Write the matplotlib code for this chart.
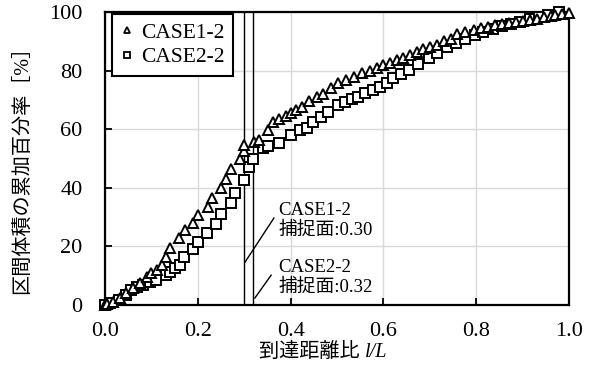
import matplotlib.pyplot as plt
from matplotlib.lines import Line2D

plt.rcParams['font.family'] = ['Liberation Serif', 'Noto Sans CJK JP']

# CASE1-2 (三角)
x1 = [0.00, 0.005, 0.018, 0.032, 0.045, 0.061, 0.075, 0.09, 0.10, 0.112, 0.122, 0.131,
      0.140, 0.160, 0.172, 0.19, 0.201, 0.221, 0.231, 0.251, 0.261, 0.272, 0.291, 0.300,
      0.300, 0.321, 0.332, 0.352, 0.361, 0.375, 0.39, 0.40, 0.412, 0.424, 0.44, 0.456,
      0.47, 0.487, 0.503, 0.52, 0.537, 0.553, 0.57, 0.585, 0.600, 0.614, 0.63, 0.643,
      0.657, 0.672, 0.686, 0.70, 0.715, 0.73, 0.745, 0.758, 0.775, 0.794, 0.81, 0.825,
      0.84, 0.855, 0.87, 0.885, 0.90, 0.915, 0.93, 0.945, 0.96, 0.97, 0.985, 0.999]
y1 = [0.0, 0.5, 1.1, 2.3, 4.0, 5.7, 7.4, 9.7, 11.0, 12.0, 13.6, 16.5,
      19.6, 22.8, 25.6, 28.1, 30.7, 33.6, 36.6, 39.8, 43.0, 46.6, 50.0, 52.6,
      54.6, 55.7, 56.3, 59.7, 62.6, 63.5, 64.5, 65.5, 66.5, 67.7, 69.5, 71.1,
      72.0, 74.0, 75.7, 76.8, 78.0, 79.1, 80.0, 81.0, 81.8, 82.5, 83.5, 84.5,
      85.3, 86.3, 87.5, 88.0, 88.7, 90.0, 91.0, 92.7, 93.3, 93.9, 94.5, 95.0,
      95.5, 96.0, 96.3, 96.7, 97.0, 97.4, 97.8, 98.2, 98.7, 99.0, 99.4, 99.8]

# CASE2-2 (四角)
x2 = [0.00, 0.012, 0.031, 0.045, 0.057, 0.07, 0.083, 0.097, 0.111, 0.131, 0.140, 0.152,
      0.162, 0.171, 0.19, 0.201, 0.22, 0.24, 0.251, 0.272, 0.280, 0.300, 0.311, 0.32,
      0.341, 0.352, 0.376, 0.40, 0.42, 0.435, 0.449, 0.465, 0.481, 0.503, 0.518, 0.532,
      0.546, 0.56, 0.577, 0.593, 0.607, 0.621, 0.638, 0.654, 0.675, 0.697, 0.716, 0.736,
      0.756, 0.776, 0.797, 0.815, 0.835, 0.855, 0.875, 0.895, 0.915, 0.935, 0.955, 0.977]
y2 = [0.0, 0.8, 1.7, 3.5, 5.1, 6.0, 6.8, 7.8, 8.5, 10.2, 11.4, 12.5,
      13.7, 16.3, 19.0, 21.6, 24.5, 27.6, 31.1, 34.7, 38.3, 42.7, 47.2, 49.7,
      53.5, 54.3, 55.4, 58.0, 59.7, 60.6, 62.6, 64.3, 66.0, 68.3, 69.2, 70.2,
      71.2, 72.3, 73.3, 74.3, 75.8, 77.4, 78.8, 80.2, 82.2, 84.2, 86.2, 88.2,
      89.5, 90.7, 92.2, 93.3, 94.3, 95.2, 96.0, 96.8, 97.5, 98.3, 99.0, 100.0]

# 捕捉面
capture = [0.30, 0.32]
capture_labels = ["CASE1-2\n捕捉面:0.30", "CASE2-2\n捕捉面:0.32"]

fig = plt.figure(figsize=(5.96, 3.68), dpi=100)
ax = fig.add_axes([0.176, 0.171, 0.779, 0.796])

ax.grid(color="#d9d9d9", linewidth=1)
ax.set_axisbelow(True)

for c in capture:
    ax.axvline(c, color="black", linewidth=1)

ax.plot(x2, y2, linestyle="none", marker="s", markersize=7, markerfacecolor="white",
        markeredgecolor="black", markeredgewidth=1.4, clip_on=False, zorder=3)
ax.plot(x1, y1, linestyle="none", marker="^", markersize=7.5, markerfacecolor="white",
        markeredgecolor="black", markeredgewidth=1.4, clip_on=False, zorder=4)

# 注記の引き出し線
ax.plot([0.302, 0.364], [14.7, 29.7], color="black", linewidth=1)
ax.plot([0.323, 0.358], [2.4, 10.2], color="black", linewidth=1)
ax.text(0.373, 29.0, capture_labels[0], fontsize=13.5, va="center", linespacing=1.2)
ax.text(0.373, 9.5, capture_labels[1], fontsize=13.5, va="center", linespacing=1.2)

ax.set_xlim(0, 1.0)
ax.set_ylim(0, 100)
ax.set_xticks([0.0, 0.2, 0.4, 0.6, 0.8, 1.0])
ax.set_xticklabels(["0.0", "0.2", "0.4", "0.6", "0.8", "1.0"])
ax.set_yticks([0, 20, 40, 60, 80, 100])
ax.tick_params(direction="in", length=5, width=1.3, labelsize=16, color="black")
ax.tick_params(axis="y", pad=16)
ax.tick_params(axis="x", pad=12)
for s in ax.spines.values():
    s.set_linewidth(1.6)

handles = [
    Line2D([], [], linestyle="none", marker="^", markersize=5, markerfacecolor="white",
           markeredgecolor="black", markeredgewidth=1.3, label="CASE1-2"),
    Line2D([], [], linestyle="none", marker="s", markersize=5, markerfacecolor="white",
           markeredgecolor="black", markeredgewidth=1.3, label="CASE2-2"),
]
leg = ax.legend(handles=handles, loc="upper left", bbox_to_anchor=(0.015, 0.993),
                borderaxespad=0, fontsize=15.5, fancybox=False, framealpha=1,
                edgecolor="black", handlelength=0.6, handletextpad=0.35,
                borderpad=0.4, labelspacing=0.2)
leg.get_frame().set_linewidth(1.5)

# 軸ラベル
fig.text(0.612, 0.043, "到達距離比 ", fontsize=14.5, ha="right", va="center")
fig.text(0.612, 0.043, "l/L", fontsize=14.5, ha="left", va="center", style="italic")
fig.text(0.037, 0.552, "区間体積の累加百分率［%］", fontsize=14.5, rotation=90,
         ha="center", va="center")

fig.savefig("out.png", dpi=100)
